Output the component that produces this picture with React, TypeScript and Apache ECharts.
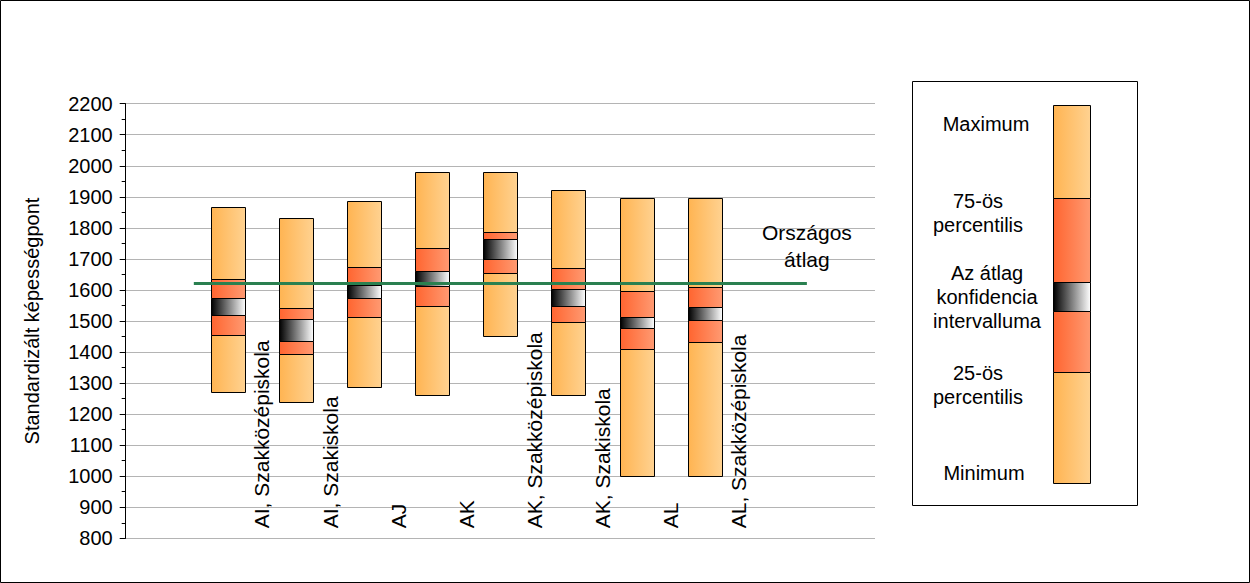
import React, { useEffect, useRef } from "react";
import * as echarts from "echarts";

const categories = [
  "AI, Szakközépiskola",
  "AI, Szakiskola",
  "AJ",
  "AK",
  "AK, Szakközépiskola",
  "AK, Szakiskola",
  "AL",
  "AL, Szakközépiskola",
];
const minimum = [1271, 1239, 1286, 1262, 1452, 1262, 1000, 1000];
const p25 = [1455, 1394, 1513, 1548, 1654, 1496, 1409, 1431];
const ciLow = [1518, 1435, 1574, 1612, 1699, 1547, 1477, 1502];
const ciHigh = [1574, 1506, 1617, 1661, 1763, 1602, 1512, 1544];
const p75 = [1634, 1541, 1673, 1734, 1786, 1670, 1596, 1609];
const maximum = [1866, 1831, 1886, 1979, 1979, 1921, 1895, 1895];
const nationalAverage = 1621;
const yTicks = { min: 800, max: 2200, step: 100 };
const axisTitle = "Standardizált képességpont";
const avgLabel = "Országos\nátlag";
const legendLabels = [
  "Maximum",
  "75-ös\npercentilis",
  "Az átlag\nkonfidencia\nintervalluma",
  "25-ös\npercentilis",
  "Minimum",
];

const FONT = "'Liberation Sans', Arial, sans-serif";

const lightFill = () =>
  new echarts.graphic.LinearGradient(0, 0, 1, 0, [
    { offset: 0, color: "#FFB452" },
    { offset: 1, color: "#FFD291" },
  ]);
const redFill = () =>
  new echarts.graphic.LinearGradient(0, 0, 1, 0, [
    { offset: 0, color: "#FF6530" },
    { offset: 1, color: "#FF9A72" },
  ]);
const ciFill = () =>
  new echarts.graphic.LinearGradient(0, 0, 1, 0, [
    { offset: 0, color: "#000000" },
    { offset: 1, color: "#FFFFFF" },
  ]);

export default function App() {
  const ref = useRef<HTMLDivElement>(null);

  useEffect(() => {
    document.body.style.margin = "0";
    if (!ref.current) return;
    const chart = echarts.init(ref.current, null, { renderer: "svg" });

    const boxData = categories.map((_, i) => [
      i + 1.5,
      minimum[i],
      p25[i],
      ciLow[i],
      ciHigh[i],
      p75[i],
      maximum[i],
    ]);

    const renderItem = (params: any, api: any) => {
      const x = api.value(0);
      const vals = [1, 2, 3, 4, 5, 6].map((d) => api.value(d));
      const w = api.size([0.5, 0])[0];
      const cx = api.coord([x, vals[0]])[0];
      const fills = [lightFill, redFill, ciFill, redFill, lightFill];
      const children = [];
      for (let k = 0; k < 5; k++) {
        const yBottom = api.coord([x, vals[k]])[1];
        const yTop = api.coord([x, vals[k + 1]])[1];
        children.push({
          type: "rect",
          shape: {
            x: Math.round(cx - w / 2) + 0.5,
            y: Math.round(yTop) + 0.5,
            width: Math.round(w),
            height: Math.round(yBottom) - Math.round(yTop),
          },
          style: { fill: fills[k](), stroke: "#000", lineWidth: 1 },
        });
      }
      return { type: "group", children };
    };

    const lx = 1053.5, lw = 37;
    const legendSections = [
      { y0: 105, y1: 198, fill: lightFill() },
      { y0: 198, y1: 282, fill: redFill() },
      { y0: 282, y1: 311, fill: ciFill() },
      { y0: 311, y1: 372, fill: redFill() },
      { y0: 372, y1: 483, fill: lightFill() },
    ];
    const legendTextPos = [
      { x: 986, y: 124 },
      { x: 978, y: 213 },
      { x: 987, y: 297 },
      { x: 978, y: 385 },
      { x: 984, y: 473 },
    ];

    const graphic: any[] = [
      {
        type: "rect",
        shape: { x: 0.5, y: 0.5, width: 1249, height: 582 },
        style: { fill: "none", stroke: "#000", lineWidth: 1 },
        silent: true,
      },
      {
        type: "rect",
        shape: { x: 912.5, y: 81.5, width: 225, height: 424 },
        style: { fill: "#fff", stroke: "#000", lineWidth: 1 },
        silent: true,
      },
      ...legendSections.map((s) => ({
        type: "rect",
        shape: { x: lx, y: s.y0 + 0.5, width: lw, height: s.y1 - s.y0 },
        style: { fill: s.fill, stroke: "#000", lineWidth: 1 },
        silent: true,
      })),
      ...legendLabels.map((t, i) => ({
        type: "text",
        x: legendTextPos[i].x,
        y: legendTextPos[i].y,
        style: {
          text: t,
          fontSize: 20,
          fontFamily: FONT,
          fill: "#000",
          align: "center",
          verticalAlign: "middle",
          lineHeight: 24,
        },
        silent: true,
      })),
    ];

    const option: any = {
      animation: false,
      backgroundColor: "#fff",
      textStyle: { fontFamily: FONT },
      grid: {
        left: 125.7,
        top: 103.7,
        right: 375,
        bottom: 44.7,
        containLabel: false,
        outerBoundsMode: "none",
      },
      xAxis: {
        type: "value",
        min: 0,
        max: 11,
        interval: 1,
        axisLine: { show: false },
        axisTick: { show: false },
        splitLine: { show: false },
        axisLabel: {
          inside: true,
          rotate: 90,
          margin: 10,
          fontSize: 21,
          color: "#000",
          fontFamily: FONT,
          showMinLabel: true,
          showMaxLabel: true,
          formatter: (v: number) => {
            const idx = Math.round(v) - 2;
            return idx >= 0 && idx < categories.length ? categories[idx] : "";
          },
        },
      },
      yAxis: {
        type: "value",
        min: yTicks.min,
        max: yTicks.max,
        interval: yTicks.step,
        name: axisTitle,
        nameLocation: "middle",
        nameRotate: 90,
        nameGap: 84,
        nameTextStyle: { fontSize: 20, color: "#000", fontFamily: FONT },
        axisLine: { show: true, lineStyle: { color: "#000", width: 1 } },
        axisTick: { show: true, length: 6, lineStyle: { color: "#000" } },
        minorTick: { show: true, splitNumber: 2, length: 4, lineStyle: { color: "#000" } },
        splitLine: { show: true, lineStyle: { color: "#B4B4B4", width: 1 } },
        axisLabel: {
          fontSize: 20,
          color: "#000",
          margin: 13,
          fontFamily: FONT,
          formatter: (v: number) => String(v),
        },
      },
      series: [
        {
          type: "custom",
          renderItem,
          data: boxData,
          encode: { x: 0, y: [1, 2, 3, 4, 5, 6] },
          z: 2,
          silent: true,
        },
        {
          type: "line",
          data: [
            [1, nationalAverage],
            [10, nationalAverage],
          ],
          symbol: "none",
          lineStyle: { color: "#2A8050", width: 3 },
          z: 5,
          silent: true,
        },
        {
          type: "scatter",
          data: [[10, nationalAverage]],
          symbolSize: 0,
          itemStyle: { color: "#000", opacity: 1 },
          z: 6,
          silent: true,
          label: {
            show: true,
            formatter: () => avgLabel,
            position: "top",
            distance: 10,
            align: "center",
            fontSize: 21,
            lineHeight: 27,
            color: "#000",
            opacity: 1,
            textBorderWidth: 0,
            fontFamily: FONT,
          },
        },
      ],
      graphic,
    };

    chart.setOption(option);
    return () => chart.dispose();
  }, []);

  return <div ref={ref} style={{ width: 1250, height: 583 }} />;
}
